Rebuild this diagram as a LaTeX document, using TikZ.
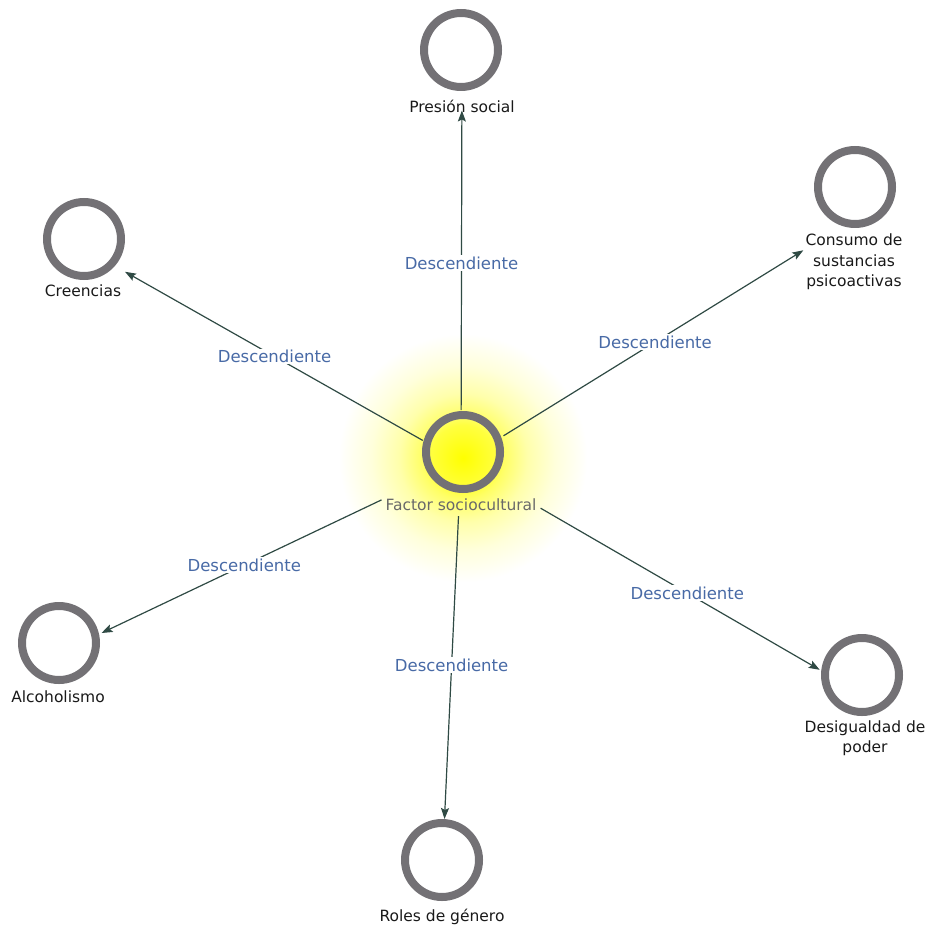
\documentclass[tikz,border=0pt]{standalone}
\usepackage{fontspec}
\setmainfont{DejaVu Sans}
\usetikzlibrary{arrows.meta,fit}
\definecolor{ringgray}{RGB}{115,113,117}
\definecolor{edgecol}{RGB}{47,74,68}
\definecolor{elabel}{RGB}{72,106,166}
\definecolor{nodetext}{RGB}{25,25,25}
\definecolor{centertext}{RGB}{105,105,105}
\pgfdeclareradialshading{glow}{\pgfpoint{0bp}{0bp}}{color(0bp)=(yellow); color(3.6bp)=(yellow!75!white); color(4.5bp)=(yellow!60!white); color(7bp)=(yellow!33!white); color(10bp)=(yellow!14!white); color(13.5bp)=(white); color(50bp)=(white)}
\begin{document}
\begin{tikzpicture}[x=1pt,y=-1pt,
  ring/.style={rectangle, minimum size=82pt, inner sep=0pt, outer sep=0pt,
    path picture={\draw[ringgray, line width=8pt] (path picture bounding box.center) circle (37pt);}},
  lbl/.style={font=\fontsize{15.5}{20.5}\selectfont, text=nodetext, align=center, inner sep=2pt},
  box/.style={inner sep=0pt, outer sep=0pt},
  edge/.style={draw=edgecol, line width=1.2pt, -{Stealth[length=11pt,width=8pt,inset=2pt]}},
  elab/.style={font=\fontsize{16.5}{20}\selectfont, text=elabel, fill=white, inner sep=1.5pt}]
\useasboundingbox (0,0) rectangle (925,925);
\shade[shading=glow] (463,458) circle (230);
% center
\node[ring] (c) at (463,452) {};
\node[lbl, text=centertext] (cl) at (461,505) {Factor sociocultural};
\node[box, fit=(c)(cl)] (cB) {};
% targets
\node[ring] (pres) at (461,50) {};
\node[lbl] (presl) at (462,106) {Presión social};
\node[box, fit=(pres)(presl)] (presB) {};
\node[ring] (cre) at (84,239) {};
\node[lbl] (crel) at (83,291) {Creencias};
\node[box, fit=(cre)(crel)] (creB) {};
\node[ring] (con) at (855,187) {};
\node[lbl] (conl) at (854,262) {Consumo de\\sustancias\\psicoactivas};
\node[box, fit=(con)(conl)] (conB) {};
\node[ring] (alc) at (59,643) {};
\node[lbl] (alcl) at (58,697) {Alcoholismo};
\node[box, fit=(alc)(alcl)] (alcB) {};
\node[ring] (des) at (862,675) {};
\node[lbl] (desl) at (865,738) {Desigualdad de\\poder};
\node[box, fit=(des)(desl)] (desB) {};
\node[ring] (rol) at (442,860) {};
\node[lbl] (roll) at (442,917) {Roles de género};
\node[box, fit=(rol)(roll)] (rolB) {};
% edges
\draw[edge, shorten <=52pt, shorten >=-4pt] (cB.center) -- node[elab, pos=.572] {Descendiente} (presB);
\draw[edge, shorten <=44pt] (cB.center) -- node[elab, pos=.555] {Descendiente} (creB);
\draw[edge, shorten <=50pt] (cB.center) -- node[elab, pos=.567] {Descendiente} (conB);
\draw[edge, shorten <=88pt, shorten >=-6pt] (cB.center) -- node[elab, pos=.612] {Descendiente} (alcB);
\draw[edge, shorten <=92pt, shorten >=-20pt] (cB.center) -- node[elab, pos=.663] {Descendiente} (desB);
\draw[edge, shorten <=54pt] (cB.center) -- node[elab, pos=.569] {Descendiente} (rolB);
\end{tikzpicture}
\end{document}
